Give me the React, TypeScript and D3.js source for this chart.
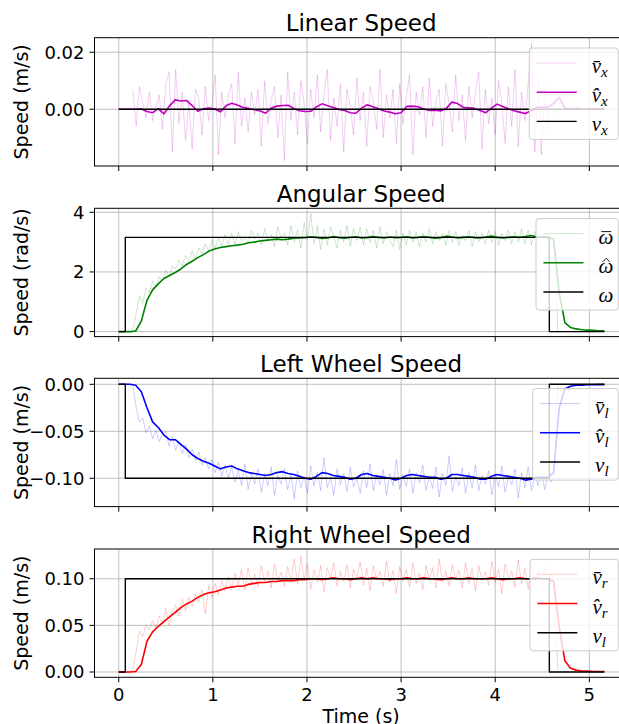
import React from 'react';
import * as d3 from 'd3';

// ---------- data ----------
const NOISY_T0 = 0.15;
const NOISY_DT = 0.035;
const EST_T0 = 0;
const EST_DT = 0.06;
const TARGET_T = [0, 0.07, 0.07, 4.575, 4.575, 5.16];
const X_TICKS = [0, 1, 2, 3, 4, 5];

const VX_NOISY = [
  0.007, -0.006, 0.008, 0.002, -0.003, 0.006, -0.004, 0.001, 0.005, -0.007,
  0.009, 0.013, -0.015, 0.014, -0.005, 0.006, -0.011, 0.003, -0.014, 0.007,
  0.004, -0.009, 0.008, -0.004, 0.002, 0.012, -0.016, 0.006, -0.003, 0.005,
  0.009, -0.012, 0.013, -0.006, 0.004, -0.008, 0.006, -0.002, 0.007, -0.013,
  0.010, -0.005, 0.003, 0.008, -0.010, 0.005, -0.018, 0.013, -0.004, 0.006,
  -0.009, 0.010, 0.002, -0.012, 0.007, -0.003, 0.012, -0.008, 0.005, 0.014,
  -0.011, 0.004, -0.006, 0.009, -0.015, 0.007, 0.001, -0.009, 0.011, -0.004,
  0.006, -0.013, 0.008, 0.003, -0.007, 0.014, -0.010, 0.005, -0.003, 0.007,
  -0.012, 0.009, -0.005, 0.004, 0.012, -0.016, 0.006, -0.002, 0.008, -0.010,
  0.011, -0.006, 0.003, 0.007, -0.013, 0.009, 0.002, -0.008, 0.012, -0.004,
  0.005, -0.011, 0.008, -0.003, 0.006, 0.013, -0.014, 0.007, -0.005, 0.004,
  -0.009, 0.010, 0.002, -0.012, 0.008, -0.006, 0.014, -0.013, 0.006, -0.004,
  0.009, 0.023, -0.015, 0.010, -0.016, 0.008, -0.007, 0.004, -0.002, 0.000,
];
const VX_EST = [
  0, 0, 0, 0, 0.0001, -0.0008, -0.0012, 0.0002, -0.0016, 0.0012,
  0.0033, 0.0029, 0.0031, 0.0013, -0.0007, 0.0002, 0.0004, 0.0001, -0.0009, 0.0012,
  0.0021, 0.0015, 0.0006, 0.0003, -0.0002, -0.0005, -0.0014, 0.0004, 0.0011, 0.0013,
  0.0014, 0.0003, -0.0005, -0.0008, -0.0007, 0.0008, 0.0019, 0.0012, 0.0006, -0.0001,
  -0.0004, -0.0012, -0.0014, 0.0004, 0.0016, 0.0009, 0.0002, -0.0006, -0.0010, -0.0016,
  -0.0012, 0.0010, 0.0011, 0.0009, 0.0001, -0.0004, -0.0003, -0.0006, 0.0003, 0.0025,
  0.0020, 0.0007, 0.0005, 0.0003, -0.0004, -0.0012, 0.0004, 0.0018, 0.0010, 0.0002,
  -0.0005, -0.0010, -0.0015, -0.0005, 0.0006, 0.0008, 0.0007, 0.0020, 0.0042, 0.0004,
  0.0002, 0.0003, 0.0002, 0.0002, 0.0002, 0.0002, 0.0002,
];
const VX_TARGET = [0, 0, 0, 0, 0, 0];

const W_NOISY = [
  0.05, 0.60, 1.20, 0.95, 1.45, 1.30, 1.70, 1.50, 1.85, 1.70,
  2.05, 1.85, 2.20, 2.10, 2.40, 2.20, 2.55, 2.35, 2.70, 2.45,
  2.80, 2.60, 2.95, 2.70, 3.05, 2.80, 3.15, 2.85, 3.25, 2.95,
  3.30, 2.90, 3.35, 3.05, 3.15, 2.95, 3.40, 3.10, 3.30, 2.90,
  3.45, 3.05, 3.25, 2.85, 3.50, 3.15, 3.30, 2.90, 3.55, 3.00,
  3.40, 2.80, 3.65, 3.05, 3.95, 2.95, 3.55, 2.75, 3.45, 2.90,
  3.50, 3.20, 2.80, 3.40, 3.00, 3.55, 2.85, 3.45, 3.05, 3.50,
  2.90, 3.45, 3.00, 3.40, 2.80, 3.50, 2.95, 3.35, 3.05, 2.85,
  3.40, 2.75, 3.30, 2.90, 3.40, 3.00, 3.35, 2.85, 3.30, 3.00,
  3.45, 2.95, 3.35, 3.05, 3.30, 2.90, 3.40, 3.00, 3.35, 2.90,
  3.25, 3.05, 3.40, 2.85, 3.35, 3.00, 3.30, 2.95, 3.40, 3.00,
  3.35, 2.90, 3.30, 3.05, 3.40, 2.95, 3.35, 3.00, 3.45, 2.95,
  3.40, 2.90, 3.35, 3.05, 3.30, 3.10, 3.25, 3.05, 2.90, 0.05,
];
const W_EST = [
  0, 0, 0, 0.02, 0.35, 1.05, 1.40, 1.60, 1.78, 1.88,
  1.98, 2.10, 2.25, 2.36, 2.48, 2.58, 2.70, 2.77, 2.82, 2.85,
  2.88, 2.90, 2.93, 2.98, 3.00, 3.04, 3.06, 3.08, 3.10, 3.08,
  3.10, 3.13, 3.14, 3.15, 3.18, 3.16, 3.12, 3.14, 3.19, 3.15,
  3.13, 3.16, 3.18, 3.14, 3.15, 3.19, 3.16, 3.14, 3.17, 3.15,
  3.16, 3.18, 3.14, 3.16, 3.19, 3.16, 3.13, 3.15, 3.20, 3.17,
  3.14, 3.16, 3.18, 3.15, 3.14, 3.17, 3.20, 3.16, 3.14, 3.16,
  3.18, 3.16, 3.19, 3.22, 3.18, 3.17, 3.16, 3.10, 1.30, 0.30,
  0.14, 0.09, 0.06, 0.05, 0.04, 0.03, 0.03,
];
const W_TARGET = [0, 0, 3.16, 3.16, 0, 0];

const VL_NOISY = [
  -0.002, -0.024, -0.040, -0.036, -0.052, -0.044, -0.058, -0.049, -0.061, -0.053,
  -0.050, -0.066, -0.056, -0.070, -0.060, -0.074, -0.064, -0.078, -0.069, -0.081,
  -0.072, -0.086, -0.078, -0.090, -0.080, -0.094, -0.083, -0.098, -0.086, -0.100,
  -0.088, -0.104, -0.092, -0.108, -0.085, -0.112, -0.094, -0.106, -0.090, -0.115,
  -0.095, -0.108, -0.088, -0.118, -0.097, -0.106, -0.090, -0.112, -0.096, -0.122,
  -0.092, -0.110, -0.098, -0.116, -0.087, -0.108, -0.094, -0.113, -0.078, -0.110,
  -0.099, -0.118, -0.090, -0.107, -0.095, -0.114, -0.088, -0.109, -0.100, -0.116,
  -0.092, -0.110, -0.085, -0.113, -0.097, -0.107, -0.091, -0.118, -0.095, -0.108,
  -0.080, -0.112, -0.096, -0.109, -0.090, -0.116, -0.094, -0.105, -0.086, -0.113,
  -0.098, -0.111, -0.088, -0.120, -0.095, -0.107, -0.076, -0.114, -0.099, -0.108,
  -0.089, -0.116, -0.094, -0.110, -0.086, -0.113, -0.097, -0.106, -0.092, -0.118,
  -0.095, -0.109, -0.087, -0.115, -0.098, -0.107, -0.090, -0.121, -0.094, -0.110,
  -0.088, -0.113, -0.096, -0.108, -0.091, -0.112, -0.097, -0.104, -0.095, -0.002,
];
const VL_EST = [
  0, 0, 0, -0.001, -0.008, -0.025, -0.040, -0.046, -0.054, -0.059,
  -0.059, -0.064, -0.069, -0.075, -0.079, -0.082, -0.084, -0.087, -0.090, -0.088,
  -0.087, -0.090, -0.092, -0.094, -0.095, -0.096, -0.097, -0.096, -0.094, -0.093,
  -0.095, -0.096, -0.098, -0.100, -0.101, -0.098, -0.094, -0.095, -0.097, -0.098,
  -0.099, -0.101, -0.100, -0.096, -0.095, -0.097, -0.098, -0.099, -0.100, -0.102,
  -0.100, -0.097, -0.096, -0.097, -0.098, -0.099, -0.099, -0.101, -0.100, -0.096,
  -0.096, -0.097, -0.098, -0.099, -0.101, -0.101, -0.098, -0.096, -0.097, -0.098,
  -0.099, -0.100, -0.102, -0.101, -0.099, -0.099, -0.099, -0.094, -0.025, -0.005,
  -0.002, -0.001, -0.001, -0.0005, -0.0005, -0.0003, -0.0003,
];
const VL_TARGET = [0, 0, -0.1, -0.1, 0, 0];

const VR_NOISY = [
  0.002, 0.022, 0.044, 0.038, 0.050, 0.045, 0.055, 0.048, 0.060, 0.052,
  0.068, 0.050, 0.064, 0.072, 0.060, 0.078, 0.066, 0.080, 0.070, 0.084,
  0.075, 0.088, 0.062, 0.092, 0.080, 0.095, 0.083, 0.098, 0.087, 0.102,
  0.090, 0.106, 0.093, 0.110, 0.088, 0.112, 0.095, 0.105, 0.091, 0.114,
  0.096, 0.108, 0.090, 0.116, 0.098, 0.107, 0.092, 0.113, 0.097, 0.121,
  0.094, 0.124, 0.100, 0.116, 0.089, 0.110, 0.096, 0.114, 0.086, 0.112,
  0.101, 0.117, 0.092, 0.108, 0.097, 0.115, 0.090, 0.110, 0.100, 0.118,
  0.093, 0.111, 0.087, 0.114, 0.099, 0.108, 0.092, 0.119, 0.096, 0.109,
  0.084, 0.113, 0.097, 0.110, 0.091, 0.117, 0.095, 0.106, 0.088, 0.114,
  0.099, 0.112, 0.090, 0.121, 0.096, 0.108, 0.092, 0.115, 0.100, 0.109,
  0.090, 0.117, 0.095, 0.111, 0.087, 0.114, 0.098, 0.107, 0.093, 0.119,
  0.096, 0.110, 0.084, 0.116, 0.099, 0.108, 0.091, 0.120, 0.095, 0.111,
  0.089, 0.114, 0.097, 0.109, 0.092, 0.113, 0.098, 0.105, 0.096, 0.002,
];
const VR_EST = [
  0, 0, 0, 0.0005, 0.008, 0.033, 0.043, 0.049, 0.054, 0.059,
  0.064, 0.069, 0.073, 0.076, 0.080, 0.083, 0.085, 0.086, 0.088, 0.090,
  0.091, 0.092, 0.092, 0.094, 0.095, 0.096, 0.096, 0.097, 0.097, 0.098,
  0.098, 0.098, 0.099, 0.099, 0.100, 0.100, 0.099, 0.100, 0.101, 0.100,
  0.100, 0.099, 0.100, 0.101, 0.100, 0.101, 0.100, 0.100, 0.099, 0.100,
  0.100, 0.101, 0.100, 0.100, 0.101, 0.100, 0.100, 0.099, 0.100, 0.101,
  0.100, 0.100, 0.101, 0.100, 0.100, 0.100, 0.101, 0.100, 0.099, 0.100,
  0.100, 0.101, 0.100, 0.100, 0.101, 0.100, 0.100, 0.097, 0.048, 0.012,
  0.004, 0.002, 0.001, 0.001, 0.0005, 0.0005, 0.0005,
];
const VR_TARGET = [0, 0, 0.1, 0.1, 0, 0];

const TITLES = ['Linear Speed', 'Angular Speed', 'Left Wheel Speed', 'Right Wheel Speed'];
const Y_LABELS = ['Speed (m/s)', 'Speed (rad/s)', 'Speed (m/s)', 'Speed (m/s)'];
const Y_TICKS = [[0, 0.02], [0, 2, 4], [0, -0.05, -0.1], [0, 0.05, 0.1]];
const Y_FORMATS = ['.2f', 'd', '.2f', '.2f'];
const Y_DOMAINS = [[-0.0199, 0.0251], [-0.168, 4.134], [-0.1302, 0.0064], [-0.0057, 0.1319]];
const LEGEND_BASES = ['v', 'ω', 'v', 'v'];
const LEGEND_SUBS = [['x', 'x', 'x'], ['', '', ''], ['l', 'l', 'l'], ['r', 'r', 'l']];

const SERIES = [
  { noisy: VX_NOISY, est: VX_EST, target: VX_TARGET },
  { noisy: W_NOISY, est: W_EST, target: W_TARGET },
  { noisy: VL_NOISY, est: VL_EST, target: VL_TARGET },
  { noisy: VR_NOISY, est: VR_EST, target: VR_TARGET },
];

// ---------- layout / style ----------
const W = 619;
const H = 724;
const AX_LEFT = 94.5;
const AX_RIGHT = 627.7;
const AX_TOPS = [37.7, 208.3, 378.3, 549];
const AX_H = 128.3;
const X_DOMAIN = [-0.2575, 5.4075];
const COLORS = ['#bf00bf', '#008000', '#0000ff', '#ff0000'];
const LEGEND_W = [89, 82.3, 85.6, 88.3];
const LEGEND_RIGHT = 618.3;
const TICK = 5;
const SANS = 'DejaVu Sans';
const SERIF = 'Liberation Serif';

type Pt = [number, number];

function LegendMark({ kind, cx, baseY }: { kind: number; cx: number; baseY: number }) {
  if (kind === 0) {
    return <line x1={cx - 5} x2={cx + 5} y1={baseY - 12} y2={baseY - 12} stroke="#000" strokeWidth={0.9} />;
  }
  if (kind === 1) {
    return (
      <path
        d={`M${cx - 3.5},${baseY - 11} L${cx},${baseY - 14.5} L${cx + 3.5},${baseY - 11}`}
        fill="none"
        stroke="#000"
        strokeWidth={0.9}
      />
    );
  }
  return null;
}

function Panel({ k, x }: { k: number; x: d3.ScaleLinear<number, number> }) {
  const s = SERIES[k];
  const top = AX_TOPS[k];
  const bottom = top + AX_H;
  const y = d3.scaleLinear().domain(Y_DOMAINS[k]).range([bottom, top]);
  const line = d3.line<Pt>().x((d) => x(d[0])).y((d) => y(d[1]));
  const noisyPts: Pt[] = s.noisy.map((v, i) => [NOISY_T0 + i * NOISY_DT, v]);
  const estPts: Pt[] = s.est.map((v, i) => [EST_T0 + i * EST_DT, v]);
  const tgtPts: Pt[] = TARGET_T.map((t, i) => [t, s.target[i]]);
  const fmt = d3.format(Y_FORMATS[k]);
  const color = COLORS[k];
  const clipId = `clip-${k}`;
  const lgLeft = LEGEND_RIGHT - LEGEND_W[k];
  const lgTop = top + 10.3;
  const rows = [0, 1, 2].map((r) => lgTop + 15 + r * 29.2);
  const isOmega = LEGEND_BASES[k] === 'ω';
  const marks = ['\u0304', '\u0302', ''];
  const handleStyles = [
    { stroke: color, opacity: 0.2, width: 1 },
    { stroke: color, opacity: 1, width: 1.6 },
    { stroke: '#000', opacity: 1, width: 1.4 },
  ];
  const midX = (AX_LEFT + AX_RIGHT) / 2;
  return (
    <g>
      <defs>
        <clipPath id={clipId}>
          <rect x={AX_LEFT} y={top} width={AX_RIGHT - AX_LEFT} height={AX_H} />
        </clipPath>
      </defs>
      {X_TICKS.map((t) => (
        <line key={'gx' + t} x1={x(t)} x2={x(t)} y1={top} y2={bottom} stroke="#b0b0b0" strokeWidth={0.8} />
      ))}
      {Y_TICKS[k].map((t) => (
        <line key={'gy' + t} x1={AX_LEFT} x2={AX_RIGHT} y1={y(t)} y2={y(t)} stroke="#b0b0b0" strokeWidth={0.8} />
      ))}
      <g clipPath={`url(#${clipId})`} fill="none" strokeLinejoin="round">
        <path d={line(noisyPts) || ''} stroke={color} strokeOpacity={0.2} strokeWidth={1} />
        <path d={line(estPts) || ''} stroke={color} strokeWidth={1.6} />
        <path d={line(tgtPts) || ''} stroke="#000" strokeWidth={1.4} />
      </g>
      <rect x={AX_LEFT} y={top} width={AX_RIGHT - AX_LEFT} height={AX_H} fill="none" stroke="#000" strokeWidth={1} />
      {X_TICKS.map((t) => (
        <line key={'tx' + t} x1={x(t)} x2={x(t)} y1={bottom} y2={bottom + TICK} stroke="#000" strokeWidth={1} />
      ))}
      {k === 3 &&
        X_TICKS.map((t) => (
          <text key={'lx' + t} x={x(t)} y={bottom + 24} fontSize={18} textAnchor="middle" fontFamily={SANS}>
            {String(t)}
          </text>
        ))}
      {Y_TICKS[k].map((t) => (
        <g key={'ty' + t}>
          <line x1={AX_LEFT - TICK} x2={AX_LEFT} y1={y(t)} y2={y(t)} stroke="#000" strokeWidth={1} />
          <text x={AX_LEFT - TICK - 5} y={y(t)} dy="0.36em" fontSize={18} textAnchor="end" fontFamily={SANS}>
            {fmt(t)}
          </text>
        </g>
      ))}
      <text x={midX} y={top - 6.3} fontSize={23} textAnchor="middle" fontFamily={SANS}>
        {TITLES[k]}
      </text>
      <text
        transform={`translate(28.3, ${(top + bottom) / 2}) rotate(-90)`}
        fontSize={19}
        textAnchor="middle"
        fontFamily={SANS}
      >
        {Y_LABELS[k]}
      </text>
      <rect
        x={lgLeft}
        y={lgTop}
        width={LEGEND_W[k]}
        height={91.5}
        rx={3}
        fill="#fff"
        fillOpacity={0.8}
        stroke="#cccccc"
        strokeWidth={1}
      />
      {rows.map((ry, r) => {
        const lx = lgLeft + 62.4;
        return (
          <g key={'lg' + r}>
            <line
              x1={lgLeft + 7.4}
              x2={lgLeft + 47.4}
              y1={ry}
              y2={ry}
              stroke={handleStyles[r].stroke}
              strokeOpacity={handleStyles[r].opacity}
              strokeWidth={handleStyles[r].width}
            />
            <text x={lx} y={ry + 10} fontFamily={SERIF} fontStyle="italic" fontSize={21}>
              <tspan>{isOmega ? LEGEND_BASES[k] : LEGEND_BASES[k] + marks[r]}</tspan>
              {LEGEND_SUBS[k][r] && (
                <tspan dy={4} fontSize={15}>
                  {LEGEND_SUBS[k][r]}
                </tspan>
              )}
            </text>
            {isOmega && <LegendMark kind={r} cx={lx + 7.8} baseY={ry + 10} />}
          </g>
        );
      })}
    </g>
  );
}

export default function App() {
  const x = d3.scaleLinear().domain(X_DOMAIN).range([AX_LEFT, AX_RIGHT]);
  return (
    <svg width={W} height={H} style={{ position: 'absolute', left: 0, top: 0, background: '#fff' }}>
      <rect width={W} height={H} fill="#fff" />
      {[0, 1, 2, 3].map((k) => (
        <Panel key={k} k={k} x={x} />
      ))}
      <text x={(AX_LEFT + AX_RIGHT) / 2} y={723} fontSize={19} textAnchor="middle" fontFamily={SANS}>
        Time (s)
      </text>
    </svg>
  );
}
